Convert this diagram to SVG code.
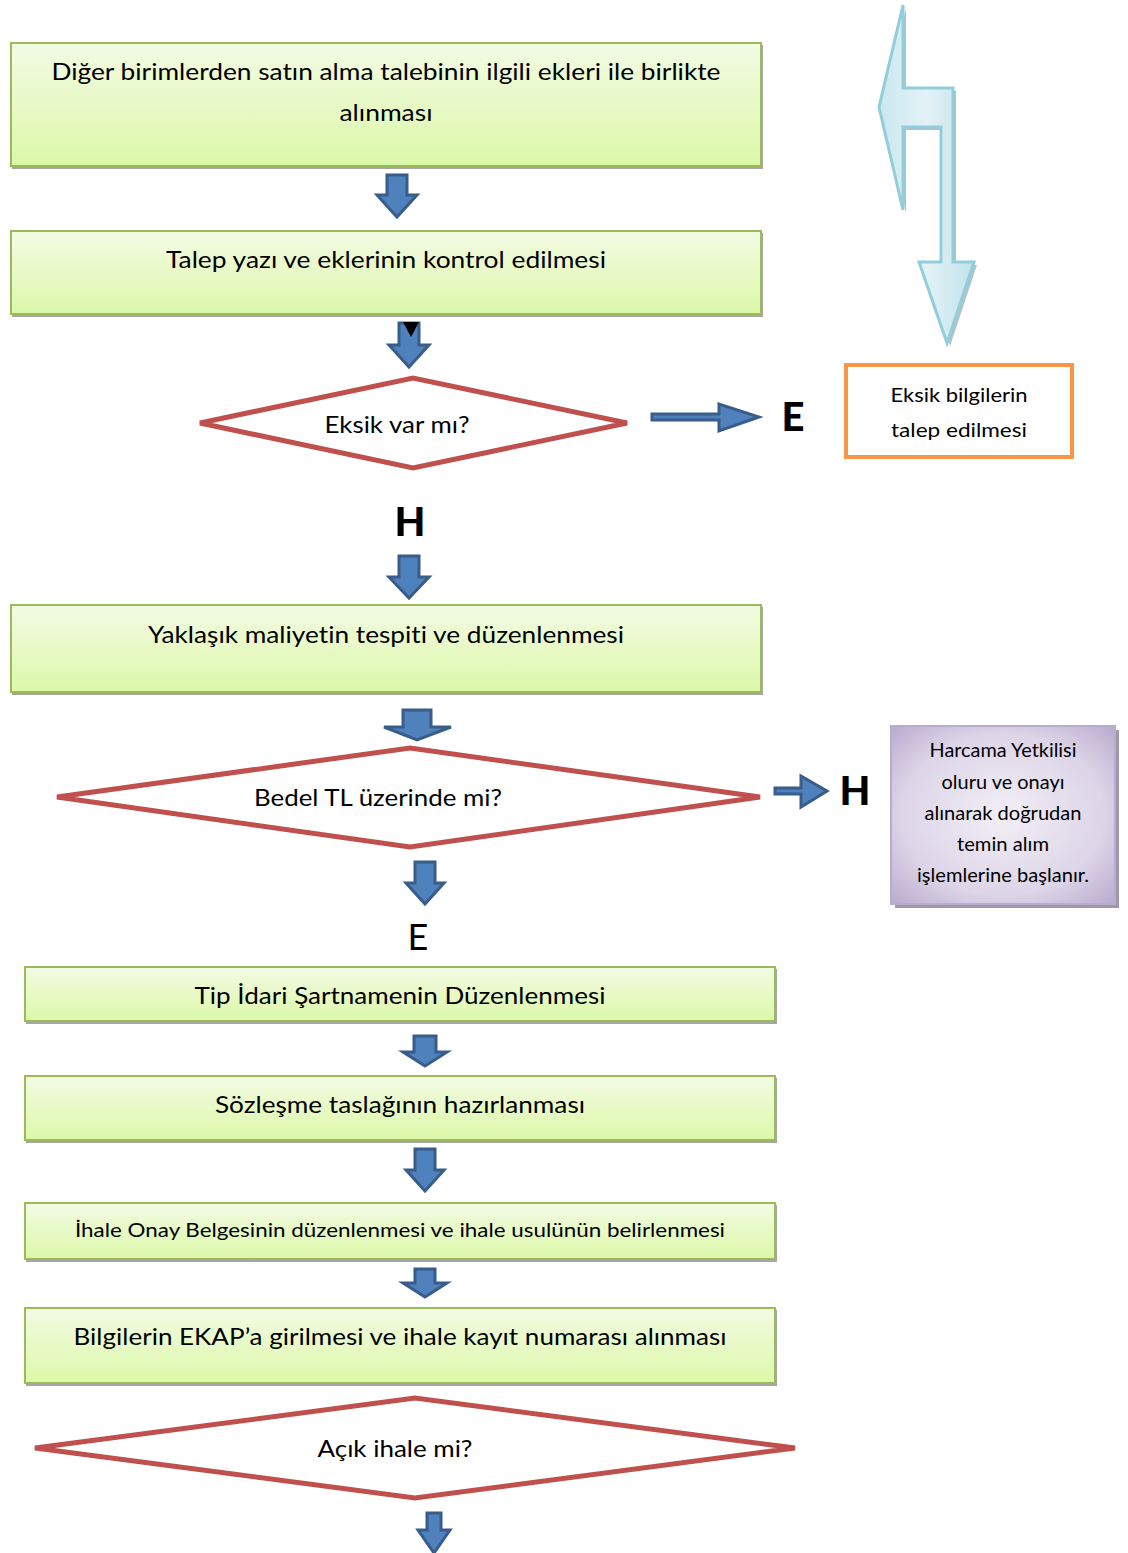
<svg xmlns="http://www.w3.org/2000/svg" width="1128" height="1553" viewBox="0 0 1128 1553">
<defs>
<linearGradient id="gGreen" x1="0" y1="0" x2="0" y2="1">
<stop offset="0" stop-color="#f3fbe4"/>
<stop offset="1" stop-color="#dcf8a8"/>
</linearGradient>
<radialGradient id="gPurple" cx="0.5" cy="0.5" r="0.75">
<stop offset="0" stop-color="#f2eff6"/>
<stop offset="0.6" stop-color="#ddd5e8"/>
<stop offset="1" stop-color="#b3a2c9"/>
</radialGradient>
<linearGradient id="gBlue" x1="0" y1="0" x2="1" y2="0">
<stop offset="0" stop-color="#cbe7ef"/>
<stop offset="0.5" stop-color="#e2f2f6"/>
<stop offset="1" stop-color="#c2e2eb"/>
</linearGradient>
<style>
.box{fill:url(#gGreen);stroke:#9bbb59;stroke-width:2}
.shadow{fill:#a6a6a6}
.dia{fill:#ffffff;stroke:#c0504d;stroke-width:5;stroke-linejoin:miter}
.barrow{fill:#4f81bd;stroke:#385d8a;stroke-width:3;stroke-linejoin:miter}
.t{font-family:Lato,"Open Sans","Noto Sans",sans-serif;fill:#000;text-anchor:middle;font-variant-ligatures:none}
.m{font-size:23px}
.s{font-size:19px}
.b{font-weight:900;font-size:40px}
</style>
</defs>

<g id="connectors">
<path class="barrow" d="M387,175 H407 V195 H417 L397,217 L377,195 H387 Z"/>
<path class="barrow" d="M399,323 H419 V345 H429 L409,367 L389,345 H399 Z"/>
<polygon points="403,322 419,322 411,337" fill="#000"/>
<path class="barrow" d="M652,414 H719 V404 L759,417 L719,431 V420 H652 Z"/>
<path class="barrow" d="M399,556 H419 V577 H429 L409,598 L389,577 H399 Z"/>
<path class="barrow" d="M403,710 H431 V727 H451 L417,740 L384,727 H403 Z"/>
<path class="barrow" d="M775,788 H801 V776 L827,791 L801,807 V794 H775 Z"/>
<path class="barrow" d="M415,862 H435 V883 H444 L425,904 L406,883 H415 Z"/>
<path class="barrow" d="M414,1036 H436 V1052 H447 L425,1066 L403,1052 H414 Z"/>
<path class="barrow" d="M415,1149 H435 V1170 H444 L425,1191 L406,1170 H415 Z"/>
<path class="barrow" d="M415,1269 H435 V1283 H447 L425,1297 L403,1283 H415 Z"/>
<path class="barrow" d="M427,1513 H441 V1530 H450 L434,1553 L418,1530 H427 Z"/>
</g>

<g id="updown-arrow">
<polygon points="882,110 906,8 906,91 956,91 956,265 977,265 950,346 922,265 944,265 944,130 906,130 906,213" fill="#8fa9b0" opacity="0.7"/>
<polygon points="879,107 903,5 903,88 953,88 953,262 974,262 947,343 919,262 941,262 941,127 903,127 903,210" fill="url(#gBlue)" stroke="#92cddc" stroke-width="3" stroke-linejoin="miter"/>
</g>

<g id="n1">
<rect class="shadow" x="12" y="45" width="751" height="124"/>
<rect class="box" x="11" y="43" width="750" height="123"/>
<text class="t m" x="386" y="80" textLength="669" lengthAdjust="spacingAndGlyphs">Diğer birimlerden satın alma talebinin ilgili ekleri ile birlikte</text>
<text class="t m" x="386" y="121" textLength="93" lengthAdjust="spacingAndGlyphs">alınması</text>
</g>

<g id="n2">
<rect class="shadow" x="12" y="233" width="751" height="84"/>
<rect class="box" x="11" y="231" width="750" height="83"/>
<text class="t m" x="386" y="268" textLength="440" lengthAdjust="spacingAndGlyphs">Talep yazı ve eklerinin kontrol edilmesi</text>
</g>

<g id="d1">
<polygon class="dia" points="200,423 413,378 627,423 413,468"/>
<text class="t m" x="397" y="433" textLength="145" lengthAdjust="spacingAndGlyphs">Eksik var mı?</text>
</g>

<g id="lblE1"><text class="t b" x="793" y="431">E</text></g>

<g id="n-eksik">
<rect x="846" y="365" width="226" height="92" fill="#ffffff" stroke="#f79646" stroke-width="4"/>
<text class="t" style="font-size:20px" x="959" y="402" textLength="137" lengthAdjust="spacingAndGlyphs">Eksik bilgilerin</text>
<text class="t" style="font-size:20px" x="959" y="437" textLength="136" lengthAdjust="spacingAndGlyphs">talep edilmesi</text>
</g>

<g id="lblH1"><text class="t b" x="410" y="536">H</text></g>

<g id="n3">
<rect class="shadow" x="12" y="607" width="751" height="88"/>
<rect class="box" x="11" y="605" width="750" height="87"/>
<text class="t m" x="386" y="643" textLength="476" lengthAdjust="spacingAndGlyphs">Yaklaşık maliyetin tespiti ve düzenlenmesi</text>
</g>

<g id="d2">
<polygon class="dia" points="57,797 410,748 760,797 410,847"/>
<text class="t m" x="378" y="806" textLength="248" lengthAdjust="spacingAndGlyphs">Bedel TL üzerinde mi?</text>
</g>

<g id="lblH2"><text class="t b" x="855" y="805">H</text></g>

<g id="n-harcama">
<rect x="895" y="730" width="224" height="178" fill="#9f98a8"/>
<rect x="891" y="726" width="224" height="178" fill="url(#gPurple)" stroke="#b8acd0" stroke-width="2"/>
<text class="t s" x="1003" y="757" textLength="147" lengthAdjust="spacingAndGlyphs">Harcama Yetkilisi</text>
<text class="t s" x="1003" y="789" textLength="123" lengthAdjust="spacingAndGlyphs">oluru ve onayı</text>
<text class="t s" x="1003" y="820" textLength="157" lengthAdjust="spacingAndGlyphs">alınarak doğrudan</text>
<text class="t s" x="1003" y="851" textLength="92" lengthAdjust="spacingAndGlyphs">temin alım</text>
<text class="t s" x="1003" y="882" textLength="172" lengthAdjust="spacingAndGlyphs">işlemlerine başlanır.</text>
</g>

<g id="lblE2"><text class="t" style="font-size:36px" x="418" y="950">E</text></g>

<g id="n4">
<rect class="shadow" x="26" y="969" width="751" height="55"/>
<rect class="box" x="25" y="967" width="750" height="54"/>
<text class="t m" x="400" y="1004" textLength="411" lengthAdjust="spacingAndGlyphs">Tip İdari Şartnamenin Düzenlenmesi</text>
</g>

<g id="n5">
<rect class="shadow" x="26" y="1078" width="751" height="65"/>
<rect class="box" x="25" y="1076" width="750" height="64"/>
<text class="t m" x="400" y="1113" textLength="370" lengthAdjust="spacingAndGlyphs">Sözleşme taslağının hazırlanması</text>
</g>

<g id="n6">
<rect class="shadow" x="26" y="1205" width="751" height="57"/>
<rect class="box" x="25" y="1203" width="750" height="56"/>
<text class="t" style="font-size:20px" x="400" y="1237" textLength="650" lengthAdjust="spacingAndGlyphs">İhale Onay Belgesinin düzenlenmesi ve ihale usulünün belirlenmesi</text>
</g>

<g id="n7">
<rect class="shadow" x="26" y="1310" width="751" height="76"/>
<rect class="box" x="25" y="1308" width="750" height="75"/>
<text class="t m" x="400" y="1345" textLength="653" lengthAdjust="spacingAndGlyphs">Bilgilerin EKAP’a girilmesi ve ihale kayıt numarası alınması</text>
</g>

<g id="d3">
<polygon class="dia" points="35,1448 415,1398 795,1448 415,1498"/>
<text class="t m" x="395" y="1457" textLength="155" lengthAdjust="spacingAndGlyphs">Açık ihale mi?</text>
</g>
</svg>
